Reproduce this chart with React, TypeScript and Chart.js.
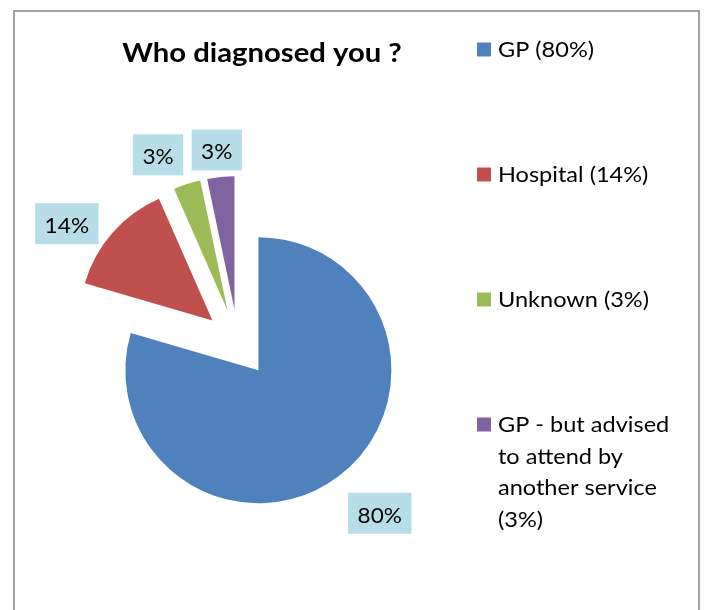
import React, { useEffect, useRef } from 'react';
import { Chart, registerables } from 'chart.js';

Chart.register(...registerables);

// ---- data ----
const TITLE = 'Who diagnosed you ?';
const categories = ['GP', 'Hospital', 'Unknown', 'GP - but advised to attend by another service'];
const values = [79.6, 13.9, 3.3, 3.3];
const colors = ['#4f81bd', '#c0504d', '#9bbb59', '#8064a2'];

// ---- style ----
const FONT = 'Lato, "Open Sans", sans-serif';
const EXPLODE = 34;
const RADIUS = 133;
const LABEL_BG = '#b7dee8';

const total = values.reduce((a, b) => a + b, 0);
const pct = (v: number) => Math.round((v / total) * 100) + '%';

function stretchText(ctx: CanvasRenderingContext2D, text: string, x: number, y: number, align: CanvasTextAlign, sx: number) {
  ctx.save();
  ctx.translate(x, y);
  ctx.scale(sx, 1);
  ctx.textAlign = align;
  ctx.textBaseline = 'alphabetic';
  ctx.fillText(text, 0, 0);
  ctx.restore();
}

const explodePlugin = {
  id: 'explodeSlices',
  beforeDatasetsDraw(chart: any) {
    const area = chart.chartArea;
    const cx = (area.left + area.right) / 2;
    const cy = (area.top + area.bottom) / 2;
    chart.getDatasetMeta(0).data.forEach((arc: any) => {
      const mid = (arc.startAngle + arc.endAngle) / 2;
      arc.x = cx + Math.cos(mid) * EXPLODE;
      arc.y = cy + Math.sin(mid) * EXPLODE;
    });
  },
};

const clamp = (v: number, a: number, b: number) => Math.max(a, Math.min(b, v));

const LABEL_SX = 1.03;
const labelPlugin = {
  id: 'sliceLabels',
  afterDatasetsDraw(chart: any) {
    const ctx: CanvasRenderingContext2D = chart.ctx;
    ctx.save();
    ctx.font = '22px ' + FONT;
    chart.getDatasetMeta(0).data.forEach((arc: any, i: number) => {
      const text = pct(values[i]);
      const mid = (arc.startAngle + arc.endAngle) / 2;
      const dx = Math.cos(mid);
      const dy = Math.sin(mid);
      const gap = 8 + 14 * Math.abs(dx);
      const px = arc.x + (arc.outerRadius + gap) * dx;
      const py = arc.y + (arc.outerRadius + gap) * dy;
      const tw = ctx.measureText(text).width * LABEL_SX;
      const w = tw + 19;
      const h = 41;
      const ax = clamp(0.5 - 0.5 * Math.sign(dx) * Math.pow(Math.abs(dx) / 0.3, 2), 0, 1);
      const ay = clamp(0.5 - 0.5 * Math.sign(dy) * clamp((Math.abs(dy) - 0.7) / 0.1, 0, 1), 0, 1);
      const left = px - ax * w;
      const top = py - ay * h + 3;
      ctx.fillStyle = LABEL_BG;
      ctx.fillRect(left, top, w, h);
      ctx.fillStyle = '#000';
      stretchText(ctx, text, left + w / 2, top + 30, 'center', LABEL_SX);
    });
    ctx.restore();
  },
};

const textPlugin = {
  id: 'titleLegend',
  afterDraw(chart: any) {
    const ctx: CanvasRenderingContext2D = chart.ctx;
    ctx.save();
    // title
    ctx.fillStyle = '#000';
    ctx.font = 'bold 26px ' + FONT;
    stretchText(ctx, TITLE, 262, 62, 'center', 1.125);
    // legend
    const LEG_SX = 1.12;
    ctx.font = '21px ' + FONT;
    const lx = 477;
    const tx = 498;
    const maxW = 193;
    categories.forEach((cat, i) => {
      const top = 42.5 + i * 125;
      ctx.fillStyle = colors[i];
      ctx.fillRect(lx, top, 14, 14);
      ctx.fillStyle = '#000';
      const words = (cat + ' (' + pct(values[i]) + ')').split(' ');
      const lines: string[] = [];
      let cur = '';
      words.forEach((wd) => {
        const test = cur ? cur + ' ' + wd : wd;
        if (cur && ctx.measureText(test).width * LEG_SX > maxW) {
          lines.push(cur);
          cur = wd;
        } else {
          cur = test;
        }
      });
      if (cur) lines.push(cur);
      lines.forEach((ln, j) => stretchText(ctx, ln, tx, top + 14.5 + j * 31.5, 'left', LEG_SX));
    });
    ctx.restore();
  },
};

export default function App() {
  const ref = useRef<HTMLCanvasElement>(null);
  useEffect(() => {
    if (!ref.current) return;
    const chart = new Chart(ref.current, {
      type: 'pie',
      data: {
        labels: categories,
        datasets: [
          {
            data: values,
            backgroundColor: colors,
            borderWidth: 0,
            radius: RADIUS,
          } as any,
        ],
      },
      options: {
        responsive: false,
        animation: false,
        events: [],
        radius: RADIUS,
        layout: { padding: { left: 0, right: 229, top: 76, bottom: 0 } },
        plugins: {
          legend: { display: false },
          tooltip: { enabled: false },
          title: { display: false },
        },
      } as any,
      plugins: [explodePlugin, labelPlugin, textPlugin],
    });
    return () => chart.destroy();
  }, []);

  return (
    <div style={{ position: 'absolute', left: 0, top: 0, width: 705, height: 610, overflow: 'hidden', background: '#fff' }}>
      <div
        style={{
          position: 'absolute',
          left: 13,
          top: 10,
          width: 687,
          height: 700,
          boxSizing: 'border-box',
          border: '2px solid #a3a3a3',
        }}
      />
      <canvas ref={ref} width={705} height={610} style={{ position: 'absolute', left: 0, top: 0, display: 'block' }} />
    </div>
  );
}
